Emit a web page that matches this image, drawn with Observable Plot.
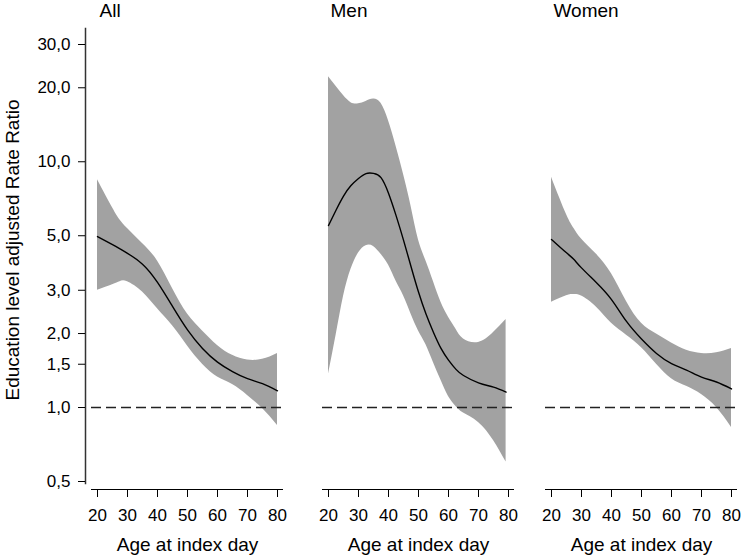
<!DOCTYPE html>
<html><head><meta charset="utf-8">
<script src="https://cdn.jsdelivr.net/npm/d3@7"></script>
<script src="https://cdn.jsdelivr.net/npm/@observablehq/plot@0.6"></script>
<style>
html,body{margin:0;padding:0;background:#fff;}
#chart{position:relative;width:742px;height:557px;overflow:hidden;font-family:"Liberation Sans",Arial,sans-serif;}
#chart svg{position:absolute;top:0;max-width:none;}
</style></head><body><div id="chart"></div>
<script>
// ---- labels & ticks ----
const panelTitles = ["All", "Men", "Women"];
const xTitle = "Age at index day";
const yTitle = "Education level adjusted Rate Ratio";
const xTicks = [20, 30, 40, 50, 60, 70, 80];
const yTicks = [0.5, 1, 1.5, 2, 3, 5, 10, 20, 30];
const xExtent = [18, 82];
const yExtent = [0.5, 30];
const refValue = [1];

// ---- All ----
const allAge  = [20, 25, 27.5, 30, 35, 40, 45, 50, 55, 60, 65, 70, 75, 80];
const allMid  = [4.96, 4.6, 4.42, 4.24, 3.83, 3.23, 2.58, 2.07, 1.74, 1.53, 1.40, 1.31, 1.25, 1.17];
const allLow  = [3.0, 3.16, 3.25, 3.25, 2.95, 2.52, 2.15, 1.78, 1.50, 1.33, 1.24, 1.12, 0.99, 0.845];
const allHigh = [8.45, 6.5, 5.8, 5.35, 4.65, 3.95, 3.05, 2.40, 2.05, 1.79, 1.63, 1.56, 1.57, 1.66];

// ---- Men ----
const menAge  = [20, 22.5, 25, 27.5, 30, 32.5, 35, 37.5, 40, 42.5, 45, 47.5, 50, 52.5, 55, 57.5, 60, 62.5, 65, 70, 75, 79.2];
const menMid  = [5.5, 6.35, 7.25, 8.0, 8.55, 8.95, 8.97, 8.62, 7.45, 6.05, 4.8, 3.75, 2.95, 2.4, 2.02, 1.74, 1.56, 1.43, 1.35, 1.26, 1.21, 1.155];
const menLow  = [1.37, 1.96, 2.83, 3.65, 4.25, 4.55, 4.52, 4.2, 3.8, 3.27, 2.85, 2.4, 2.05, 1.8, 1.52, 1.29, 1.11, 1.01, 0.95, 0.87, 0.735, 0.6];
const menHigh = [22.2, 20.3, 18.6, 17.4, 17.2, 17.6, 18.0, 17.3, 14.7, 11.6, 8.9, 6.6, 4.8, 3.95, 3.25, 2.68, 2.33, 2.08, 1.90, 1.84, 2.02, 2.28];

// ---- Women ----
const womenAge  = [20, 25, 27.5, 30, 35, 40, 45, 50, 55, 60, 65, 70, 75, 80];
const womenMid  = [4.83, 4.26, 4.0, 3.7, 3.22, 2.75, 2.24, 1.9, 1.66, 1.51, 1.42, 1.33, 1.27, 1.19];
const womenLow  = [2.68, 2.85, 2.88, 2.84, 2.56, 2.2, 1.97, 1.75, 1.50, 1.31, 1.22, 1.13, 1.0, 0.83];
const womenHigh = [8.65, 6.1, 5.35, 4.85, 4.2, 3.5, 2.7, 2.2, 1.99, 1.83, 1.71, 1.66, 1.67, 1.74];

const series = [
  [allAge, allLow, allMid, allHigh],
  [menAge, menLow, menMid, menHigh],
  [womenAge, womenLow, womenMid, womenHigh]
];

const layouts = [
  {left: 0,   width: 290, marginLeft: 85, marginRight: 7},
  {left: 290, width: 230, marginLeft: 26, marginRight: 6},
  {left: 520, width: 222, marginLeft: 19, marginRight: 5}
];

const fmt = d => d.toFixed(1).replace(".", ",");
const font = "Liberation Sans, Arial, sans-serif";
const chart = document.getElementById("chart");

series.forEach(([ages, lo, mid, hi], i) => {
  const L = layouts[i];
  const rows = ages.map((a, j) => ({age: a, lo: lo[j], mid: mid[j], hi: hi[j]}));
  const marks = [
    Plot.areaY(rows, {x: "age", y1: "lo", y2: "hi", fill: "#a2a2a2", curve: "natural"}),
    Plot.ruleY(refValue, {x1: xExtent[0], x2: xExtent[1], stroke: "#222", strokeWidth: 1.4, strokeDasharray: "10,5"}),
    Plot.line(rows, {x: "age", y: "mid", stroke: "#000", strokeWidth: 1.4, curve: "natural"}),
    Plot.ruleY([yExtent[0]], {x1: xExtent[0], x2: xExtent[1], dy: 8, stroke: "#000", strokeWidth: 1.2}),
    Plot.axisX({ticks: xTicks, tickSize: 8, tickPadding: 11, dy: 6, fontSize: 17, label: null, tickFormat: d => String(d)}),
    Plot.text([panelTitles[i]], {frameAnchor: "top-left", dx: 14, dy: -25, lineAnchor: "top", textAnchor: "start", fontSize: 19}),
    Plot.text([xTitle], {frameAnchor: "bottom", dx: 3, dy: 54, lineAnchor: "top", fontSize: 19})
  ];
  if (i === 0) {
    marks.push(
      Plot.frame({anchor: "left", stroke: "#333", strokeWidth: 1.5}),
      Plot.axisY({ticks: yTicks, tickFormat: fmt, tickSize: 7, tickPadding: 8, fontSize: 17, label: null}),
      Plot.text([yTitle], {frameAnchor: "left", rotate: -90, dx: -80, dy: -6, lineAnchor: "top", textAnchor: "middle", fontSize: 19})
    );
  }
  const svg = Plot.plot({
    width: L.width,
    height: 557,
    marginLeft: L.marginLeft,
    marginRight: L.marginRight,
    marginTop: 28,
    marginBottom: 74,
    style: {fontFamily: font, fontSize: "17px", background: "transparent", overflow: "visible"},
    x: {type: "linear", domain: xExtent, insetLeft: 6, axis: null},
    y: {type: "log", domain: yExtent, insetTop: 16, insetBottom: 2, axis: i === 0 ? undefined : null},
    marks
  });
  svg.style.left = L.left + "px";
  chart.appendChild(svg);
});
</script>
</body></html>
